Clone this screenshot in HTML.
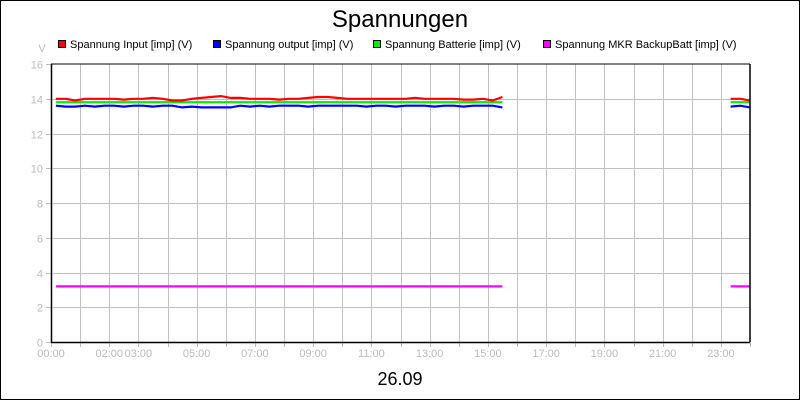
<!DOCTYPE html>
<html><head><meta charset="utf-8"><style>
body{margin:0;background:#fff}
svg{display:block;font-family:"Liberation Sans",sans-serif}
</style></head><body>
<svg id="c" width="800" height="400" xmlns="http://www.w3.org/2000/svg">
<rect x="0.5" y="0.5" width="799" height="399" fill="#fff" stroke="#000"/>
<text x="400" y="27" font-size="24" text-anchor="middle">Spannungen</text>
<text x="400" y="385" font-size="18" text-anchor="middle">26.09</text>
<text x="42" y="52" font-size="11" fill="#bbb" text-anchor="middle">V</text>
<g id="grid"></g>
<g id="series"></g>
<g id="axes"></g>
<g id="legend"></g>
</svg>
<script>
const yTicks=[0,2,4,6,8,10,12,14,16];
const xTickLabels=["00:00","02:00","03:00","05:00","07:00","09:00","11:00","13:00","15:00","17:00","19:00","21:00","23:00"];
const xTickHours=[0,2,3,5,7,9,11,13,15,17,19,21,23];
const seriesNames=["Spannung Input [imp] (V)","Spannung output [imp] (V)","Spannung Batterie [imp] (V)","Spannung MKR BackupBatt [imp] (V)"];
const seriesColors=["#ff0000","#0000ff","#00ee00","#ff00ff"];
// segment 1: 00:10 to 15:30 every 20 min; segment 2: 23:20 to 24:00
const seg1Start=10/60, seg2Start=23+20/60, stepH=20/60;
const inputA=[14.0,14.0,13.9,14.0,14.0,14.0,14.0,13.95,14.0,14.0,14.05,14.0,13.9,13.9,14.0,14.05,14.1,14.15,14.05,14.05,14.0,14.0,14.0,13.95,14.0,14.0,14.05,14.1,14.1,14.05,14.0,14.0,14.0,14.0,14.0,14.0,14.0,14.05,14.0,14.0,14.0,14.0,13.95,13.95,14.0,13.9,14.1];
const outputA=[13.6,13.55,13.55,13.6,13.55,13.6,13.6,13.55,13.6,13.6,13.55,13.6,13.6,13.5,13.55,13.5,13.5,13.5,13.5,13.6,13.55,13.6,13.55,13.6,13.6,13.6,13.55,13.6,13.6,13.6,13.6,13.6,13.55,13.6,13.6,13.55,13.6,13.6,13.6,13.55,13.6,13.6,13.55,13.6,13.6,13.6,13.5];
const battA=[13.8,13.8,13.8,13.8,13.8,13.8,13.8,13.8,13.8,13.8,13.8,13.8,13.8,13.8,13.8,13.8,13.8,13.8,13.8,13.8,13.8,13.8,13.8,13.8,13.8,13.8,13.8,13.8,13.8,13.8,13.8,13.8,13.8,13.8,13.8,13.8,13.8,13.8,13.8,13.8,13.8,13.8,13.8,13.8,13.8,13.8,13.8];
const mkrA=[3.2,3.2,3.2,3.2,3.2,3.2,3.2,3.2,3.2,3.2,3.2,3.2,3.2,3.2,3.2,3.2,3.2,3.2,3.2,3.2,3.2,3.2,3.2,3.2,3.2,3.2,3.2,3.2,3.2,3.2,3.2,3.2,3.2,3.2,3.2,3.2,3.2,3.2,3.2,3.2,3.2,3.2,3.2,3.2,3.2,3.2,3.2];
const inputB=[14.0,14.0,13.9];
const outputB=[13.55,13.6,13.5];
const battB=[13.8,13.8,13.8];
const mkrB=[3.2,3.2,3.2];

const NS="http://www.w3.org/2000/svg";
const L=51,R=750,T=64,B=342;
const xS=h=>L+(R-L)*h/24;
const yS=v=>B-(B-T)*v/16;
function mk(tag,attrs,parent){const e=document.createElementNS(NS,tag);for(const k in attrs)e.setAttribute(k,attrs[k]);parent.appendChild(e);return e;}
const grid=document.getElementById('grid'),axes=document.getElementById('axes'),ser=document.getElementById('series'),leg=document.getElementById('legend');
for(let h=1;h<24;h++){const x=Math.round(xS(h))+0.5;const g=mk('line',{x1:x,x2:x,y1:T,y2:B,stroke:'#c0c0c0'},grid);

}
yTicks.forEach(v=>{const y=Math.round(yS(v))+0.5;
if(v>0&&v<16){const g=mk('line',{x1:L,x2:R,y1:y,y2:y,stroke:'#c0c0c0'},grid);

}
const t=mk('line',{x1:L-5,x2:L,y1:y,y2:y,stroke:'#bbb'},axes);


const lb=mk('text',{x:L-8,y:y+4,'font-size':11,fill:'#bbb','text-anchor':'end'},axes);lb.textContent=v;

});
for(let h=0;h<=24;h++){const x=Math.round(xS(h))+0.5;const t=mk('line',{x1:x,x2:x,y1:B,y2:B+5,stroke:'#bbb'},axes);

}
xTickLabels.forEach((s,i)=>{const lb=mk('text',{x:xS(xTickHours[i]),y:B+15,'font-size':11,fill:'#bbb','text-anchor':'middle'},axes);lb.textContent=s;

});
const segs=[[inputA,outputA,battA,mkrA],[inputB,outputB,battB,mkrB]];
const starts=[seg1Start,seg2Start];
[3,2,1,0].forEach(si=>{segs.forEach((sg,k)=>{const d=sg[si].map((v,i)=>(i?'L':'M')+xS(starts[k]+i*stepH).toFixed(1)+','+yS(v).toFixed(1)).join('');
const p=mk('path',{d:d,fill:'none',stroke:seriesColors[si],'stroke-width':2.2},ser);

});});
mk('line',{x1:L+0.5,x2:L+0.5,y1:T,y2:B+0.5,stroke:'#000','stroke-width':1.5},axes);
mk('line',{x1:L,x2:R,y1:B+0.5,y2:B+0.5,stroke:'#000','stroke-width':1.5},axes);
mk('line',{x1:L,x2:R,y1:T,y2:T,stroke:'#000','stroke-width':1},axes);
mk('line',{x1:R,x2:R,y1:T,y2:B,stroke:'#000','stroke-width':1.5},axes);
const lx=[58,213,373,543];
seriesNames.forEach((n,i)=>{const r=mk('rect',{x:lx[i]+0.5,y:40.5,width:7,height:7,fill:seriesColors[i],stroke:'#000'},leg);


const t=mk('text',{x:lx[i]+12,y:48,'font-size':11,fill:'#000'},leg);t.textContent=n;

});
</script>
</body></html>
